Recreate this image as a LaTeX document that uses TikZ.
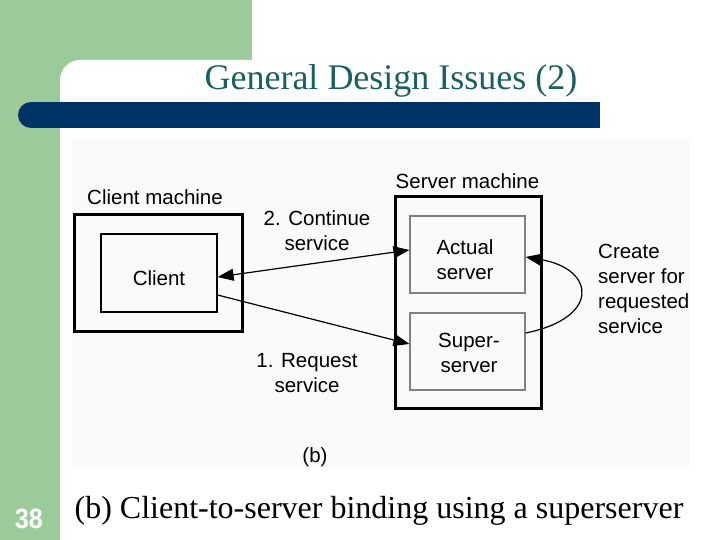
\documentclass[tikz,border=0pt]{standalone}
\usepackage{fontspec}
\setmainfont{Liberation Serif}
\newfontfamily\figfont{Liberation Sans}
\usepackage{tikz}
\usetikzlibrary{arrows.meta}
\definecolor{slidegreen}{RGB}{155,203,155}
\definecolor{slideblue}{RGB}{0,51,102}
\definecolor{titleteal}{RGB}{26,96,96}
\definecolor{figback}{RGB}{250,250,250}
\tikzstyle{machine}=[draw,line width=3pt,inner sep=0pt]
\tikzstyle{proc}=[draw,line width=1.2pt,minimum width=115pt,minimum height=77pt,inner sep=0pt]
\tikzstyle{figtext}=[font=\figfont\fontsize{20.5}{25}\selectfont,inner sep=0pt,align=center]
\tikzstyle{link}=[-{Triangle[length=16pt,width=12pt]},line width=1.2pt]

\begin{document}
\begin{tikzpicture}[x=1pt,y=-1pt]
\useasboundingbox (0,0) rectangle (720,540);
% slide background
\fill[slidegreen] (0,0) rectangle (252,100);
\fill[slidegreen] (0,0) rectangle (60,540);
\fill[white] (60,540) -- (60,80) arc[start angle=180,end angle=270,radius=20] -- (720,60) -- (720,540) -- cycle;
\fill[slideblue] (31,102) rectangle (600,128);
\fill[slideblue] (31,115) circle (13);
\fill[figback] (72,140) rectangle (690,467);

\node (title) [anchor=base,text=titleteal,font=\fontsize{36}{40}\selectfont] at (391,90) {General Design Issues (2)};

% machines and processes
\node (cm) [machine,minimum width=168pt,minimum height=117pt] at (158.5,273) {};
\node (cl) [proc,draw=black,minimum width=116pt,minimum height=78pt] at (159,273) {};
\node (sm) [machine,minimum width=146pt,minimum height=212pt] at (468.5,302.5) {};
\node (as) [proc,draw=gray] at (467.5,254.5) {};
\node (ss) [proc,draw=gray] at (467.5,351.5) {};

\node (cltext) [figtext] at (159,278) {Client};
\node (astext) [figtext] at (465,259.5) {Actual\\server};
\node (sstext) [figtext] at (469,353) {Super-\\server};
\node (cmtext) [figtext,anchor=base] at (155,205) {Client machine};
\node (smtext) [figtext,anchor=base] at (467.5,189) {Server machine};

\node (cont) [figtext] at (317,231) {2. Continue\\service};
\node (req) [figtext] at (307,373) {1. Request\\service};
\node (create) [figtext,align=left,anchor=west] at (598,289) {Create\\server for\\requested\\service};
\node (sub) [figtext] at (315,457) {(b)};

\draw[link,{Triangle[length=16pt,width=12pt]}-{Triangle[length=16pt,width=12pt]}] ([yshift=-4pt]cl.east) -- ([yshift=4.5pt]as.west);
\draw[link] ([yshift=-22pt]cl.east) -- ([yshift=7.5pt]ss.west);
\draw[link] ([yshift=18.5pt]ss.east) .. controls +(75,-15) and +(70,12) .. ([yshift=-2.5pt]as.east);

\node (caption) [anchor=base,font=\fontsize{32}{36}\selectfont] at (379,518) {(b) Client-to-server binding using a superserver};
\node (page) [anchor=base,text=white,font=\figfont\bfseries\fontsize{28}{30}\selectfont] at (29,528) {\scalebox{0.9}[1]{38}};
\end{tikzpicture}
\end{document}
